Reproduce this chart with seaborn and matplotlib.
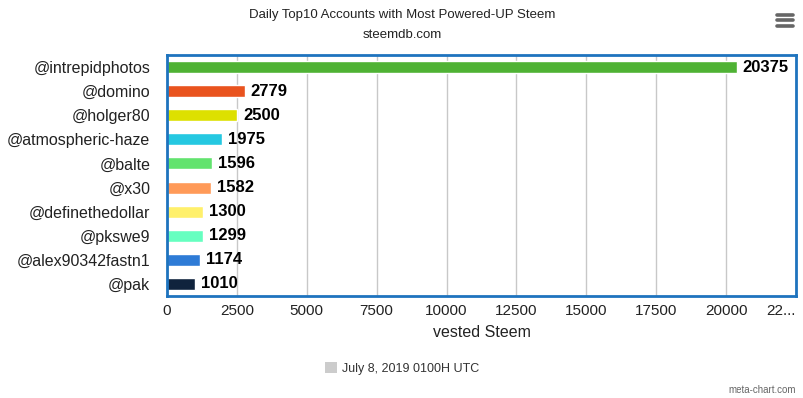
import matplotlib
matplotlib.use("Agg")
import matplotlib.pyplot as plt
import seaborn as sns
import pandas as pd
import numpy as np
from matplotlib.patches import Patch
from matplotlib.lines import Line2D

accounts = ["@intrepidphotos", "@domino", "@holger80", "@atmospheric-haze", "@balte",
            "@x30", "@definethedollar", "@pkswe9", "@alex90342fastn1", "@pak"]
values = [20375, 2779, 2500, 1975, 1596, 1582, 1300, 1299, 1174, 1010]
colors = ["#4fb234", "#e9531e", "#dde000", "#25c8e1", "#62e36e",
          "#ff9a58", "#fff06b", "#66ffc0", "#2e7bd6", "#10233d"]
xticks = [0, 2500, 5000, 7500, 10000, 12500, 15000, 17500, 20000, 22500]
xticklabels = ["0", "2500", "5000", "7500", "10000", "12500", "15000", "17500", "20000", "22..."]

sns.set_style("white")
plt.rcParams['font.family'] = ['Liberation Sans', 'DejaVu Sans']

df = pd.DataFrame({"account": accounts, "value": values})

fig = plt.figure(figsize=(8.04, 3.98), dpi=100)
ax = fig.add_axes([0.2077, 0.2563, 0.7823, 0.6055])
sns.barplot(data=df, x="value", y="account", hue="account", palette=colors,
            legend=False, width=0.5, ax=ax, saturation=1, orient="h")

ax.set_xlim(0, 22500)
ax.set_ylim(9.5, -0.5)
ax.set_xticks(xticks)
ax.set_xticklabels(xticklabels, fontsize=11, color="#222222")
lbls = ax.get_xticklabels()
lbls[-1].set_horizontalalignment("right")
ax.set_yticks(np.arange(len(accounts)))
ax.set_yticklabels(accounts, fontsize=11.5, color="#222222")
ax.tick_params(axis="y", length=0, pad=12)
ax.tick_params(axis="x", length=0, pad=6)
ax.set_ylabel("")
ax.set_xlabel("vested Steem", fontsize=11.5, color="#222222", labelpad=5)

ax.grid(axis="x", color="#c8c8c8", linewidth=1)
ax.set_axisbelow(True)
for s in ax.spines.values():
    s.set_color("#1e73be")
    s.set_linewidth(2)

# minor ticks at category boundaries on y axis
ax.set_yticks(np.arange(-0.5, 10.0, 1.0), minor=True)
ax.tick_params(axis="y", which="minor", length=8, color="#c8d4e0", width=1, direction="out")

for i, v in enumerate(values):
    ax.text(v + 220, i, str(v), va="center", ha="left", fontsize=12,
            fontweight="bold", color="#000000")

fig.text(0.5, 0.962, "Daily Top10 Accounts with Most Powered-UP Steem",
         ha="center", va="center", fontsize=9.5, color="#222222")
fig.text(0.5, 0.911, "steemdb.com", ha="center", va="center", fontsize=9.5, color="#222222")

# menu icon
for yy in [0.963, 0.949, 0.935]:
    fig.add_artist(Line2D([0.966, 0.986], [yy, yy], color="#666666", linewidth=2.6,
                          transform=fig.transFigure))

leg = fig.legend(handles=[Patch(facecolor="#cccccc", edgecolor="none")],
                 labels=["July 8, 2019 0100H UTC"], loc="center",
                 bbox_to_anchor=(0.5, 0.075), frameon=False, fontsize=9,
                 handlelength=1.0, handleheight=1.0, handletextpad=0.4)
for t in leg.get_texts():
    t.set_color("#333333")

fig.text(0.99, 0.02, "meta-chart.com", ha="right", va="center", fontsize=7, color="#666666")

fig.savefig("out.png", dpi=100)
